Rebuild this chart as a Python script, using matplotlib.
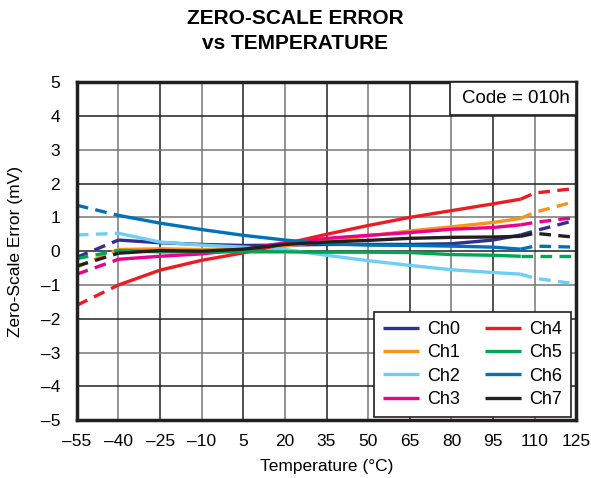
import matplotlib
matplotlib.use("Agg")
import matplotlib.pyplot as plt
from matplotlib.patches import Rectangle
import numpy as np

plt.rcParams["font.family"] = ["Liberation Sans", "DejaVu Sans"]

# temperatures (deg C)
temps = [-55, -40, -25, -10, 5, 20, 35, 50, 65, 80, 95, 105, 110, 125]

ch0 = [-0.18, 0.33, 0.25, 0.2, 0.17, 0.18, 0.2, 0.2, 0.2, 0.22, 0.33, 0.48, 0.6, 0.92]
ch1 = [-0.47, 0.05, 0.07, 0.05, 0.07, 0.15, 0.3, 0.45, 0.6, 0.72, 0.85, 0.97, 1.15, 1.48]
ch2 = [0.48, 0.53, 0.27, 0.18, 0.12, 0.05, -0.12, -0.28, -0.42, -0.55, -0.63, -0.68, -0.8, -0.97]
ch3 = [-0.68, -0.24, -0.15, -0.08, 0.05, 0.25, 0.38, 0.47, 0.55, 0.65, 0.7, 0.78, 0.85, 1.0]
ch4 = [-1.6, -1.0, -0.56, -0.27, -0.05, 0.22, 0.5, 0.76, 1.0, 1.2, 1.4, 1.54, 1.72, 1.86]
ch5 = [-0.22, 0.02, -0.02, -0.02, -0.02, -0.02, -0.03, -0.03, -0.04, -0.1, -0.12, -0.15, -0.15, -0.15]
ch6 = [1.36, 1.06, 0.83, 0.64, 0.47, 0.33, 0.22, 0.18, 0.17, 0.15, 0.12, 0.06, 0.15, 0.12]
ch7 = [-0.44, -0.06, 0.02, 0.0, 0.06, 0.2, 0.27, 0.32, 0.38, 0.41, 0.42, 0.44, 0.53, 0.41]

names = ["Ch0", "Ch1", "Ch2", "Ch3", "Ch4", "Ch5", "Ch6", "Ch7"]
series = [ch0, ch1, ch2, ch3, ch4, ch5, ch6, ch7]
colors = ["#2E3192", "#F7941D", "#6DCFF6", "#EC008C",
          "#ED1C24", "#00A651", "#0072BC", "#231F20"]

fig = plt.figure(figsize=(5.91, 4.78), dpi=100)
ax = fig.add_axes([0.130, 0.121, 0.845, 0.707])

t = np.array(temps)
solid = (t >= -40) & (t <= 105)
lo = t <= -40
hi = t >= 105
for name, vals, c in zip(names, series, colors):
    v = np.array(vals)
    ax.plot(t[solid], v[solid], color=c, lw=2.4, label=name, solid_capstyle="butt")
    ax.plot(t[lo], v[lo], color=c, lw=2.4, ls=(0, (3.5, 2.2)))
    ax.plot(t[hi], v[hi], color=c, lw=2.4, ls=(0, (3.5, 2.2)))

ax.set_xlim(-55, 125)
ax.set_ylim(-5, 5)
ax.set_xticks(range(-55, 126, 15))
ax.set_yticks(range(-5, 6))
ax.set_xticklabels([str(x).replace("-", "\u2013") for x in range(-55, 126, 15)])
ax.set_yticklabels([str(y).replace("-", "\u2013") for y in range(-5, 6)])
ax.tick_params(length=0, labelsize=12.5)
ax.tick_params(axis="x", pad=10)
ax.tick_params(axis="y", pad=12)

for i, x in enumerate(range(-40, 125, 15)):
    ax.axvline(x, color="#222222" if i % 2 else "#777777", lw=1.1, zorder=0)
for i, y in enumerate(range(-4, 5)):
    ax.axhline(y, color="#222222" if i % 2 == 0 else "#777777", lw=1.1, zorder=0)

for s in ax.spines.values():
    s.set_linewidth(2.5)
    s.set_color("#231F20")

ax.set_xlabel("Temperature (\u00b0C)", fontsize=12.5, labelpad=7)
ax.set_ylabel("Zero-Scale Error (mV)", fontsize=12.5, labelpad=13)
fig.text(0.5, 1 - 9 / 478, "ZERO-SCALE ERROR\nvs TEMPERATURE", fontsize=15,
         fontweight="bold", ha="center", va="top", linespacing=1.38)

# code box in the top right corner
ax.add_patch(Rectangle((0.7475, 0.902), 0.2525, 0.098, transform=ax.transAxes,
                       fc="white", ec="#231F20", lw=1.2, zorder=3))
ax.text(0.88, 0.951, "Code = 010h", transform=ax.transAxes, ha="center", va="center",
        fontsize=13.5, zorder=4)

leg = ax.legend(loc="lower right", bbox_to_anchor=(0.99, 0.009), ncol=2, fontsize=13,
                frameon=True, fancybox=False, handlelength=2.0, columnspacing=1.35,
                labelspacing=0.35, borderaxespad=0, handletextpad=0.45, borderpad=0.5)
leg.get_frame().set_edgecolor("#231F20")
leg.get_frame().set_linewidth(1.2)
leg.get_frame().set_alpha(1)
for h in leg.get_lines():
    h.set_linewidth(2.4)

fig.savefig("out.png", dpi=100)
